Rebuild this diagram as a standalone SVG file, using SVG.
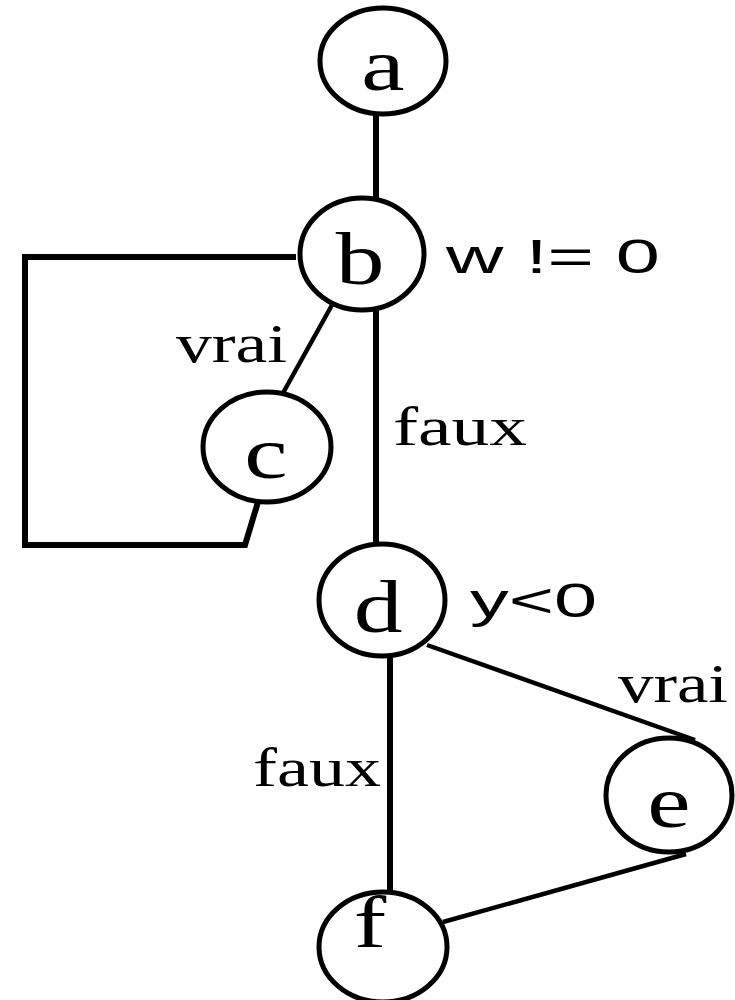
<svg xmlns="http://www.w3.org/2000/svg" width="735" height="1000" viewBox="0 0 735 1000">
<style>
.node ellipse{fill:#fff;stroke:#000;stroke-width:5}
.node text{font-family:"Liberation Serif","Times New Roman",serif;font-size:75px;fill:#000;text-anchor:middle}
.edge{fill:none;stroke:#000;stroke-linejoin:miter}
.thick{stroke-width:6}
.thin{stroke-width:4.5}
.lbl{font-family:"Liberation Serif","Times New Roman",serif;font-size:54px;fill:#000}
.lbls{font-family:"Liberation Sans",Arial,sans-serif;font-size:48px;fill:#000}
</style>
<rect width="735" height="1000" fill="#fff"/>
<g id="connectors">
<line class="edge thick" x1="376" y1="112" x2="376" y2="200"/>
<line class="edge thick" x1="376" y1="305" x2="376" y2="546"/>
<polyline class="edge thick" points="296,257 25,257 25,545 245,545 258,502"/>
<line class="edge thin" x1="337" y1="296" x2="283" y2="393"/>
<line class="edge thin" x1="427" y1="645" x2="695" y2="740"/>
<line class="edge thick" x1="390" y1="655" x2="390" y2="893"/>
<line class="edge thin" x1="686" y1="854" x2="443" y2="922"/>
<text class="lbls" x="446" y="273" textLength="214" lengthAdjust="spacingAndGlyphs">w != 0</text>
<text class="lbl" x="176" y="362" textLength="111" lengthAdjust="spacingAndGlyphs">vrai</text>
<text class="lbl" x="393" y="445" textLength="134" lengthAdjust="spacingAndGlyphs">faux</text>
<text class="lbls" x="470" y="617" textLength="127" lengthAdjust="spacingAndGlyphs">y&lt;0</text>
<text class="lbl" x="618" y="702" textLength="110" lengthAdjust="spacingAndGlyphs">vrai</text>
<text class="lbl" x="253" y="786" textLength="128" lengthAdjust="spacingAndGlyphs">faux</text>
</g>
<g id="node-a" class="node"><ellipse cx="383" cy="61" rx="63" ry="53"/><text transform="translate(383,90) scale(1.3,1)">a</text></g>
<g id="node-b" class="node"><ellipse cx="362" cy="254" rx="62" ry="56"/><text transform="translate(360,284) scale(1.3,1)">b</text></g>
<g id="node-c" class="node"><ellipse cx="267" cy="447" rx="64" ry="55"/><text transform="translate(266,478) scale(1.3,1)">c</text></g>
<g id="node-d" class="node"><ellipse cx="382" cy="600" rx="63" ry="56"/><text transform="translate(378,632) scale(1.3,1)">d</text></g>
<g id="node-e" class="node"><ellipse cx="669" cy="795" rx="63" ry="57"/><text transform="translate(669,827) scale(1.3,1)">e</text></g>
<g id="node-f" class="node"><ellipse cx="383" cy="947" rx="64" ry="55"/><text transform="translate(370,947) scale(1.3,1)">f</text></g>
</svg>
